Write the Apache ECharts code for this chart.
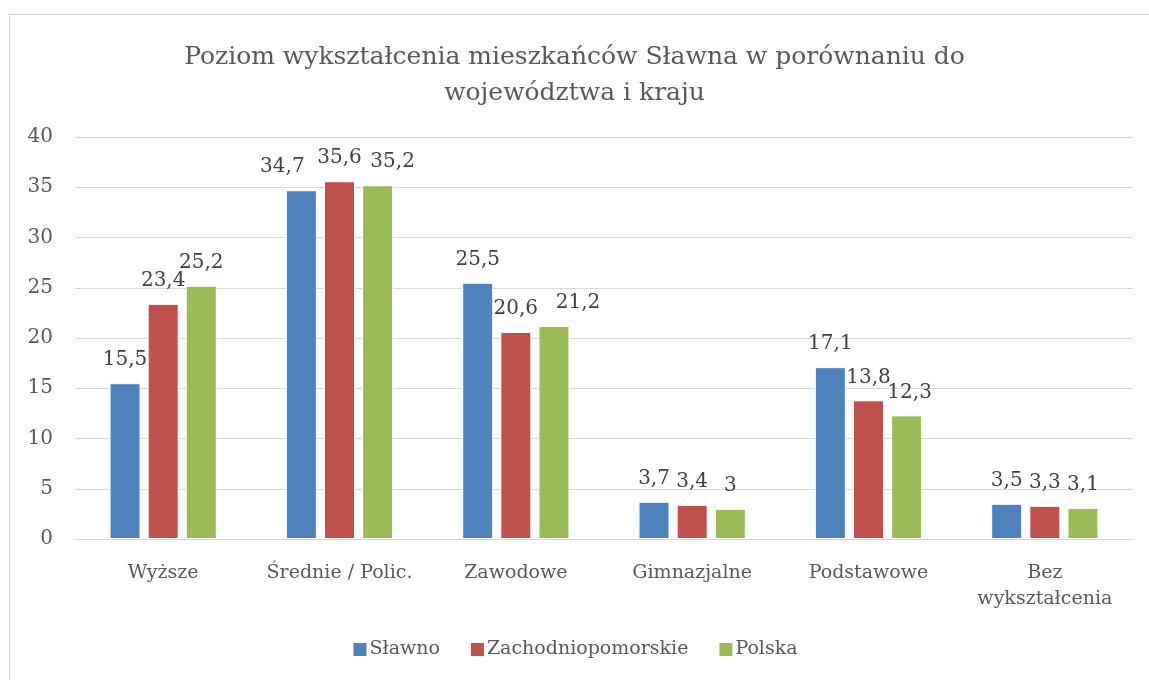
<!DOCTYPE html>
<html lang="pl">
<head>
    <meta charset="UTF-8">
    <script src="https://cdn.jsdelivr.net/npm/echarts@6/dist/echarts.min.js"></script>
    <title>Poziom wykształcenia</title>
    <style>
        body { margin: 0; background: #fff; }
        #frame {
            position: absolute; left: 9px; top: 14px;
            width: 1150px; height: 680px;
            border: 1px solid #d9d9d9;
        }
        #myEchart { position: absolute; left: 0; top: 0; width: 1149px; height: 680px; }
    </style>
</head>
<body>
    <div id="frame"></div>
    <div id="myEchart"></div>
    <script>
        var categories = ['Wyższe', 'Średnie / Polic.', 'Zawodowe', 'Gimnazjalne', 'Podstawowe', 'Bez\nwykształcenia'];
        var slawno = [15.5, 34.7, 25.5, 3.7, 17.1, 3.5];
        var zachodniopomorskie = [23.4, 35.6, 20.6, 3.4, 13.8, 3.3];
        var polska = [25.2, 35.2, 21.2, 3, 12.3, 3.1];
        var yTicks = [0, 5, 10, 15, 20, 25, 30, 35, 40];

        // labels moved by hand in the original so they don't collide (x shift, px)
        var shiftSlawno = [0, -19, 0, 0, 0, 0];
        var shiftZachodnio = [0, 0, 0, 0, 0, 0];
        var shiftPolska = [0, 15, 24, 0, 3, 0];

        var font = '"DejaVu Serif", "Liberation Serif", serif';
        var myChart = echarts.init(document.getElementById('myEchart'));

        function barSeries(name, data, shifts, color) {
            return {
                name: name,
                type: 'bar',
                data: data.map(function (v, i) {
                    return { value: v, label: { offset: [shifts[i], 0] } };
                }),
                barWidth: 31,
                barGap: '23%',
                itemStyle: { color: color, borderColor: '#ffffff', borderWidth: 1 },
                label: {
                    show: true,
                    position: 'top',
                    distance: 13,
                    color: '#404040',
                    fontFamily: font,
                    fontSize: 20,
                    formatter: function (p) { return String(p.value).replace('.', ','); }
                }
            };
        }

        var option = {
            animation: false,
            title: {
                text: 'Poziom wykształcenia mieszkańców Sławna w porównaniu do\nwojewództwa i kraju',
                left: 'center',
                top: 34,
                textStyle: { color: '#595959', fontFamily: font, fontSize: 25, fontWeight: 'normal', lineHeight: 36 }
            },
            legend: {
                bottom: 16,
                left: 'center',
                itemWidth: 15,
                itemHeight: 15,
                itemGap: 29,
                icon: 'rect',
                textStyle: { color: '#595959', fontFamily: font, fontSize: 19, padding: [0, 0, 0, -3] },
                data: ['Sławno', 'Zachodniopomorskie', 'Polska']
            },
            grid: { left: 75, right: 16, top: 137, bottom: 141 },
            xAxis: {
                type: 'category',
                data: categories,
                axisLine: { lineStyle: { color: '#d9d9d9', width: 1 } },
                axisTick: { show: false },
                axisLabel: { color: '#595959', fontFamily: font, fontSize: 19, margin: 21, lineHeight: 26, interval: 0 }
            },
            yAxis: {
                type: 'value',
                min: yTicks[0],
                max: yTicks[yTicks.length - 1],
                interval: 5,
                axisLine: { show: false },
                axisTick: { show: false },
                splitLine: { lineStyle: { color: '#d9d9d9', width: 1 } },
                axisLabel: { color: '#595959', fontFamily: font, fontSize: 20, margin: 22 }
            },
            series: [
                barSeries('Sławno', slawno, shiftSlawno, '#4f81bd'),
                barSeries('Zachodniopomorskie', zachodniopomorskie, shiftZachodnio, '#c0504d'),
                barSeries('Polska', polska, shiftPolska, '#9bbb59')
            ]
        };
        myChart.setOption(option);
    </script>
</body>
</html>
